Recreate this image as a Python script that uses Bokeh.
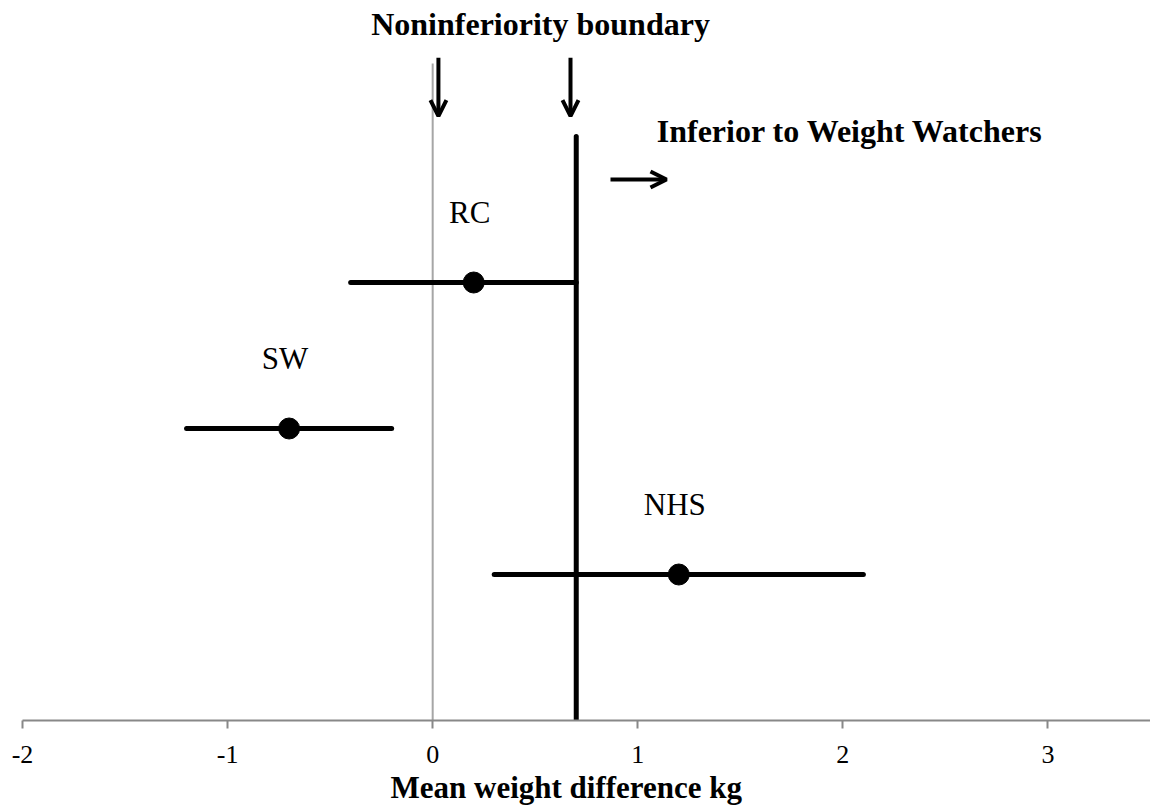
from bokeh.plotting import figure
from bokeh.models import Range1d, Arrow, OpenHead, Label, ColumnDataSource, Title
from bokeh.core.properties import value
from bokeh.embed import file_html
from bokeh.resources import INLINE

# ---- data ----
groups = ["RC", "SW", "NHS"]
rows = [3, 2, 1]
mean_diff = [0.2, -0.7, 1.2]
ci_low = [-0.4, -1.2, 0.3]
ci_high = [0.7, -0.2, 2.1]
boundary = 0.7
x_ticks = [-2, -1, 0, 1, 2, 3]
x_tick_labels = ["-2", "-1", "0", "1", "2", "3"]

FONT = "Liberation Serif"

p = figure(width=1150, height=812,
           x_range=Range1d(-2, 3.5), y_range=Range1d(0, 720 / 146),
           output_backend="svg", toolbar_location=None,
           y_axis_location=None,
           min_border_left=22, min_border_right=0,
           min_border_top=0, min_border_bottom=92)
p.xgrid.visible = False
p.ygrid.visible = False
p.outline_line_color = None
p.background_fill_color = "white"
p.border_fill_color = "white"

src = ColumnDataSource(dict(group=groups, row=rows, mean=mean_diff,
                            lo=ci_low, hi=ci_high,
                            label_y=[r + 0.48 for r in rows]))

# zero line (grey) and noninferiority boundary (black)
p.segment(x0=[0], y0=[0], x1=[0], y1=[4.5], line_color="#a6a6a6", line_width=2)
p.segment(x0=[boundary], y0=[0], x1=[boundary], y1=[4.0],
          line_color="black", line_width=5, line_cap="round")

# CI bars and points
p.segment(x0="lo", y0="row", x1="hi", y1="row", source=src,
          line_color="black", line_width=5, line_cap="round")
p.scatter(x="mean", y="row", source=src, size=21, color="black")

p.text(x="mean", y="label_y", text="group", source=src,
       text_font=value(FONT), text_font_size="31px", x_offset=-4,
       text_align="center", text_baseline="middle", text_color="black")

# annotations
p.add_layout(Label(x=0.526, y=4.77, text="Noninferiority boundary",
                   text_font=FONT, text_font_size="32px", text_font_style="bold",
                   text_align="center", text_baseline="middle", text_color="black"))
p.add_layout(Label(x=2.035, y=4.04, text="Inferior to Weight Watchers",
                   text_font=FONT, text_font_size="32px", text_font_style="bold",
                   text_align="center", text_baseline="middle", text_color="black"))

for xa in [0.028, 0.672]:
    p.add_layout(Arrow(end=OpenHead(size=16, line_width=4, line_color="black"),
                       x_start=xa, y_start=4.54, x_end=xa, y_end=4.14,
                       line_width=4, line_color="black"))
p.add_layout(Arrow(end=OpenHead(size=16, line_width=4, line_color="black"),
                   x_start=0.867, y_start=3.705, x_end=1.14, y_end=3.705,
                   line_width=4, line_color="black"))

ax = p.xaxis[0]
ax.ticker = x_ticks
ax.major_label_overrides = {t: s for t, s in zip(x_ticks, x_tick_labels)}
ax.major_label_text_font = FONT
ax.major_label_text_font_size = "26px"
ax.major_label_text_color = "black"
ax.major_label_standoff = 17
ax.axis_line_color = "#888888"
ax.axis_line_width = 2
ax.major_tick_line_color = "#888888"
ax.major_tick_line_width = 2
ax.major_tick_out = 8
ax.major_tick_in = 0
ax.minor_tick_line_color = None

p.add_layout(Title(text="Mean weight difference kg", align="left", offset=368,
                   text_font=FONT, text_font_size="31px", text_font_style="bold",
                   text_color="black", standoff=4), "below")

open("out.html", "w").write(file_html(p, INLINE))
